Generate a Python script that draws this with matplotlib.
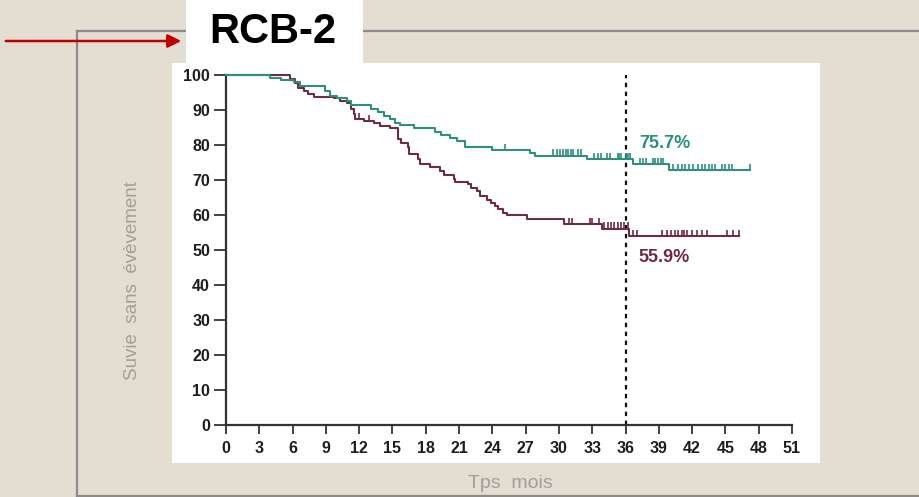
import numpy as np
import matplotlib
matplotlib.use("Agg")
import matplotlib.pyplot as plt
from matplotlib.patches import Rectangle, FancyArrowPatch
from matplotlib.lines import Line2D

plt.rcParams['font.family'] = ['Liberation Sans', 'DejaVu Sans']

# ---------------- data ----------------
title = "RCB-2"
xlabel = "Tps  mois"
ylabel = "Suvie  sans  évèvement"
xticks = list(range(0, 52, 3))
yticks = list(range(0, 101, 10))
landmark = 36
green_label = "75.7%"
red_label = "55.9%"

# green (RCB-2, better) step curve: event times and survival after each step
green_t = [0, 4.0, 5.0, 6.1, 6.7, 8.9, 9.4, 10.0, 10.9, 11.3, 13.1, 13.7, 14.2,
           14.8, 15.2, 15.7, 16.9, 18.8, 19.4, 20.2, 20.8, 21.5, 24.0, 27.4,
           27.8, 32.5, 36.7, 39.9]
green_s = [100, 99.2, 98.6, 97.9, 96.8, 95.4, 94.0, 93.3, 92.6, 91.3, 90.4, 89.3,
           88.4, 87.3, 86.4, 85.7, 84.9, 83.7, 82.8, 82.1, 81.1, 79.5, 78.6, 77.8,
           77.0, 76.0, 74.6, 72.8]
green_end = 47.2
green_cens = [25.1, 29.5, 29.8, 30.1, 30.4, 30.6, 30.8, 31.1, 31.3, 31.7, 32.0,
              33.2, 33.5, 33.8, 34.3, 34.6, 35.3, 35.4, 35.6, 36.0, 36.2, 36.4,
              37.3, 37.6, 37.8, 38.5, 38.7, 38.9, 39.2, 39.4, 40.3, 40.7, 41.1,
              41.4, 41.7, 42.1, 42.5, 42.9, 43.2, 43.5, 43.8, 44.1, 44.7, 45.0,
              45.3, 45.6, 47.2]

# red (maroon) step curve
red_t = [0, 5.8, 6.2, 6.5, 7.0, 7.4, 7.9, 9.7, 10.3, 10.9, 11.3, 11.5, 11.6, 12.4,
         13.3, 13.9, 14.8, 15.5, 15.8, 16.4, 16.5, 17.3, 17.5, 18.4, 19.3, 19.6,
         20.5, 20.6, 21.8, 22.1, 22.6, 22.9, 23.5, 23.9, 24.2, 24.5, 25.0, 25.3,
         27.1, 30.5, 33.9, 36.3]
red_s = [100, 98.8, 97.6, 96.4, 95.5, 94.7, 93.7, 93.3, 92.7, 92.1, 90.4, 88.8,
         87.3, 86.8, 86.2, 85.4, 84.8, 81.6, 80.5, 79.3, 77.3, 75.9, 74.5, 73.8,
         72.6, 71.3, 70.4, 69.3, 68.8, 67.8, 66.9, 65.4, 64.3, 63.5, 62.6, 61.6,
         60.7, 60.0, 58.8, 57.3, 56.1, 54.0]
red_end = 46.2
red_cens = [12.0, 12.9, 30.9, 31.2, 32.8, 33.0, 33.6, 34.1, 34.4, 34.7, 35.0,
            35.3, 35.6, 35.9, 36.2, 36.7, 37.0, 39.3, 39.7, 40.1, 40.5, 40.7,
            41.1, 41.3, 41.5, 42.0, 42.4, 42.9, 43.3, 45.1, 45.7, 46.2]

green_color = "#2c8f7f"
red_color = "#6e2c42"
bg = "#e3ddd2"
frame_gray = "#8c8c8c"

W, H = 920, 497
fig = plt.figure(figsize=(W / 100, H / 100), dpi=100, facecolor=bg)


def fx(px):
    return px / W


def fy(py):
    return 1 - py / H


# outer gray frame lines
fig.add_artist(Line2D([fx(77), fx(77)], [fy(31), fy(497)], color=frame_gray, lw=1.6, zorder=-5))
fig.add_artist(Line2D([fx(77), fx(920)], [fy(31), fy(31)], color=frame_gray, lw=1.6, zorder=-5))
fig.add_artist(Line2D([fx(77), fx(920)], [fy(496), fy(496)], color=frame_gray, lw=1.6, zorder=-5))

# white panels
fig.add_artist(Rectangle((fx(172), fy(463)), (820 - 172) / W, (463 - 63) / H,
                         transform=fig.transFigure, facecolor="white", edgecolor="none", zorder=-4))
fig.add_artist(Rectangle((fx(186), fy(63)), (363 - 186) / W, 63 / H,
                         transform=fig.transFigure, facecolor="white", edgecolor="none", zorder=-4))

# title
fig.text(fx(273), fy(32), title, ha="center", va="center", fontsize=30,
         fontweight="bold", color="black")

# red arrow
fig.add_artist(FancyArrowPatch((fx(3), fy(41)), (fx(184), fy(41)), transform=fig.transFigure,
                               arrowstyle="-|>", mutation_scale=20, color="#c00000", lw=1.8))

# axis labels
fig.text(fx(133), fy(281), ylabel, rotation=90, ha="center", va="center",
         fontsize=13.5, color="#a39e99")
fig.text(fx(510), fy(484), xlabel, ha="center", va="center", fontsize=14, color="#a39e99")

ax = fig.add_axes([fx(226), fy(425), (792 - 226) / W, (425 - 75) / H])
ax.set_facecolor("none")
ax.set_xlim(0, 51)
ax.set_ylim(0, 100)
for s in ["top", "right"]:
    ax.spines[s].set_visible(False)
for s in ["left", "bottom"]:
    ax.spines[s].set_color("#333333")
    ax.spines[s].set_linewidth(1.6)
ax.set_xticks(xticks)
ax.set_yticks(yticks)
ax.tick_params(axis="x", direction="out", length=6.7, width=1.3, pad=5,
               labelsize=11.5, colors="#333333", labelcolor="#1e1e1e")
ax.tick_params(axis="y", direction="out", length=8.5, width=1.3, pad=3,
               labelsize=11.5, colors="#333333", labelcolor="#1e1e1e")
for lab in ax.get_xticklabels() + ax.get_yticklabels():
    lab.set_fontweight("bold")


def draw_curve(t, s, end, cens, color, z):
    tt = list(t) + [end]
    ss = list(s) + [s[-1]]
    ax.step(tt, ss, where="post", color=color, lw=1.5, zorder=z, clip_on=False)
    t_arr = np.array(t)
    s_arr = np.array(s)
    c = np.array(cens)
    idx = np.searchsorted(t_arr, c, side="right") - 1
    sv = s_arr[idx]
    ax.vlines(c, sv, sv + 1.8, color=color, lw=1.2, zorder=z)


draw_curve(red_t, red_s, red_end, red_cens, red_color, 3)
draw_curve(green_t, green_s, green_end, green_cens, green_color, 4)

ax.axvline(landmark, ymin=0, ymax=1, color="#111111", lw=1.6,
           linestyle=(0, (2, 2)), zorder=2)

ax.text(37.2, 80.5, green_label, color=green_color, fontsize=13, fontweight="bold",
        ha="left", va="center")
ax.text(37.2, 48.0, red_label, color=red_color, fontsize=13, fontweight="bold",
        ha="left", va="center")

fig.savefig("out.png", dpi=100, facecolor=bg)
